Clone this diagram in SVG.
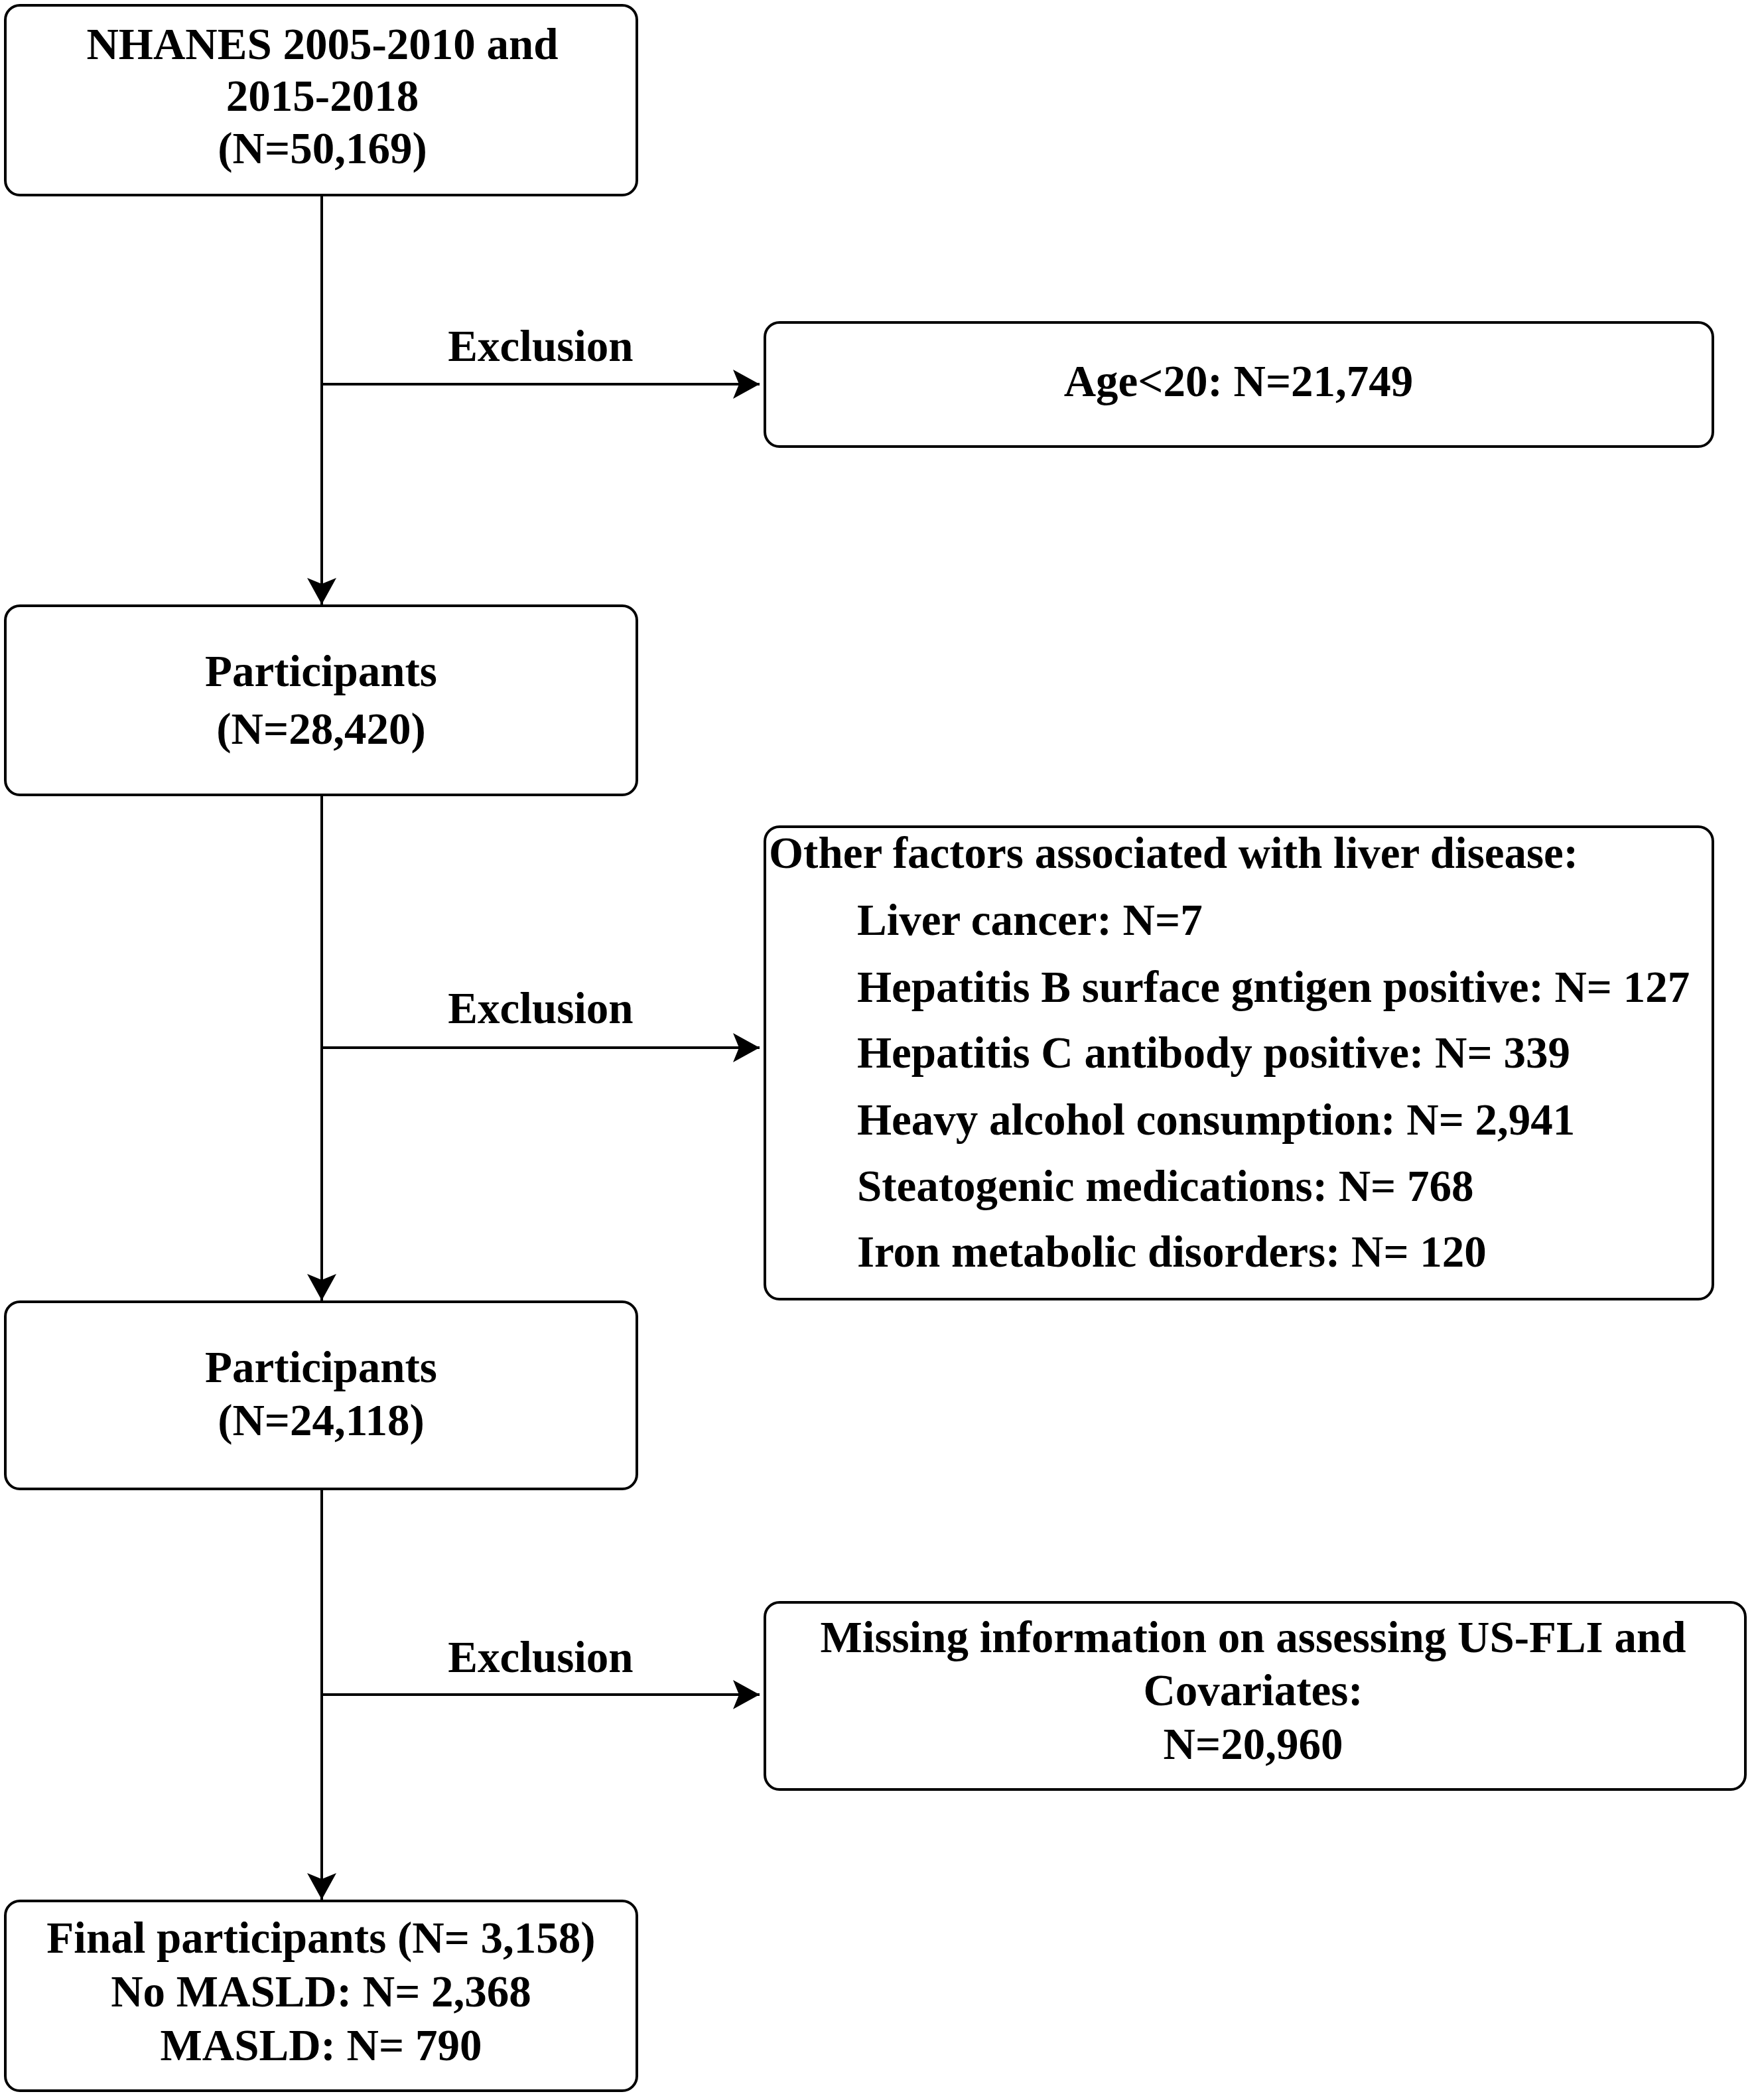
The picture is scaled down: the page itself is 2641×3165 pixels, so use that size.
<svg xmlns="http://www.w3.org/2000/svg" width="2641" height="3165" viewBox="0 0 2641 3165">
<style>
.box{fill:#fff;stroke:#000;stroke-width:4}
.t{font-family:"Liberation Serif","Times New Roman",serif;font-weight:bold;font-size:67px;fill:#000}
.c{text-anchor:middle}
.ln{stroke:#000;stroke-width:4;fill:none}
</style>
<defs>
<marker id="ah" markerUnits="userSpaceOnUse" markerWidth="42" markerHeight="44" refX="40" refY="22" orient="auto">
<path d="M0,0 L40,22 L0,44 L9,22 Z" fill="#000"/>
</marker>
</defs>
<rect width="2641" height="3165" fill="#fff"/>
<g id="connectors">
<line class="ln" x1="485" y1="294" x2="485" y2="911" marker-end="url(#ah)"/>
<line class="ln" x1="485" y1="1198" x2="485" y2="1960" marker-end="url(#ah)"/>
<line class="ln" x1="485" y1="2244" x2="485" y2="2863" marker-end="url(#ah)"/>
<line class="ln" x1="485" y1="579" x2="1145" y2="579" marker-end="url(#ah)"/>
<line class="ln" x1="485" y1="1579" x2="1145" y2="1579" marker-end="url(#ah)"/>
<line class="ln" x1="485" y1="2554" x2="1145" y2="2554" marker-end="url(#ah)"/>
<text class="t c" x="815" y="544">Exclusion</text>
<text class="t c" x="815" y="1542">Exclusion</text>
<text class="t c" x="815" y="2520">Exclusion</text>
</g>
<g id="n1">
<rect class="box" x="8" y="8" width="952" height="286" rx="22"/>
<text class="t c" x="486" y="89">NHANES 2005-2010 and</text>
<text class="t c" x="486" y="167">2015-2018</text>
<text class="t c" x="486" y="246">(N=50,169)</text>
</g>
<g id="n2">
<rect class="box" x="1153" y="486" width="1429" height="187" rx="22"/>
<text class="t c" x="1867" y="597">Age&lt;20: N=21,749</text>
</g>
<g id="n3">
<rect class="box" x="8" y="913" width="952" height="285" rx="22"/>
<text class="t c" x="484" y="1034">Participants</text>
<text class="t c" x="484" y="1121">(N=28,420)</text>
</g>
<g id="n4">
<rect class="box" x="1153" y="1246" width="1429" height="712" rx="22"/>
<text class="t" x="1159" y="1308">Other factors associated with liver disease:</text>
<text class="t" x="1292" y="1409">Liver cancer: N=7</text>
<text class="t" x="1292" y="1510">Hepatitis B surface gntigen positive: N= 127</text>
<text class="t" x="1292" y="1609">Hepatitis C antibody positive: N= 339</text>
<text class="t" x="1292" y="1710">Heavy alcohol consumption: N= 2,941</text>
<text class="t" x="1292" y="1810">Steatogenic medications: N= 768</text>
<text class="t" x="1292" y="1909">Iron metabolic disorders: N= 120</text>
</g>
<g id="n5">
<rect class="box" x="8" y="1962" width="952" height="282" rx="22"/>
<text class="t c" x="484" y="2083">Participants</text>
<text class="t c" x="484" y="2163">(N=24,118)</text>
</g>
<g id="n6">
<rect class="box" x="1153" y="2415" width="1478" height="282" rx="22"/>
<text class="t c" x="1889" y="2490">Missing information on assessing US-FLI and</text>
<text class="t c" x="1889" y="2570">Covariates:</text>
<text class="t c" x="1889" y="2651">N=20,960</text>
</g>
<g id="n7">
<rect class="box" x="8" y="2865" width="952" height="286" rx="22"/>
<text class="t c" x="484" y="2943">Final participants (N= 3,158)</text>
<text class="t c" x="484" y="3024">No MASLD: N= 2,368</text>
<text class="t c" x="484" y="3105">MASLD: N= 790</text>
</g>
</svg>
